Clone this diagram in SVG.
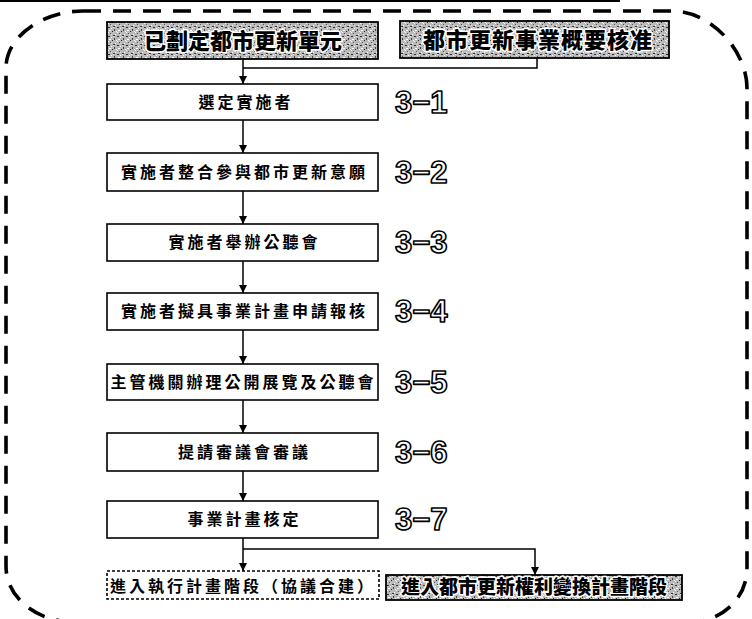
<svg xmlns="http://www.w3.org/2000/svg" width="752" height="619" viewBox="0 0 752 619">
<style>
.box{fill:#fff;stroke:#000;stroke-width:1.6}
.hbox{fill:url(#noise);stroke:#000;stroke-width:1.8}
.dbox{fill:#fff;stroke:#000;stroke-width:1.6;stroke-dasharray:3 2}
.t{font-family:"Noto Sans CJK TC","Noto Sans CJK SC",sans-serif;font-weight:bold;font-size:16px;letter-spacing:3px;text-anchor:middle;fill:#000}
.ht{font-family:"Noto Sans CJK TC","Noto Sans CJK SC",sans-serif;font-weight:900;text-anchor:middle;fill:#000;stroke:#fff;stroke-width:3;paint-order:stroke;stroke-linejoin:round}
.lbl{font-family:"Liberation Sans",Arial,sans-serif;font-weight:bold;font-size:31px;fill:#fff;stroke:#000;stroke-width:1.6;stroke-linejoin:round}
.conn{fill:none;stroke:#000;stroke-width:1.5}
.frame{fill:none;stroke:#000;stroke-width:3.6;stroke-dasharray:18 12}
</style>
<defs>
<pattern id="noise" width="9" height="9" patternUnits="userSpaceOnUse">
<rect width="9" height="9" fill="#b9b9b9"/>
<rect x="0" y="0" width="2" height="1" fill="#333"/>
<rect x="3" y="1" width="1" height="1" fill="#fff"/>
<rect x="6" y="2" width="1" height="2" fill="#444"/>
<rect x="1" y="3" width="2" height="1" fill="#fff"/>
<rect x="4" y="4" width="1" height="1" fill="#222"/>
<rect x="2" y="6" width="1" height="1" fill="#555"/>
<rect x="7" y="7" width="1" height="1" fill="#fff"/>
<rect x="0" y="5" width="1" height="1" fill="#fff"/>
<rect x="5" y="0" width="1" height="1" fill="#eee"/>
<rect x="8" y="4" width="1" height="1" fill="#fff"/>
<rect x="5" y="8" width="2" height="1" fill="#333"/>
<rect x="3" y="7" width="1" height="1" fill="#ddd"/>
</pattern>
<marker id="arr" markerUnits="userSpaceOnUse" markerWidth="9" markerHeight="8" refX="8" refY="4" orient="auto">
<path d="M0,0 L8,4 L0,8 z" fill="#000"/>
</marker>
</defs>
<rect width="752" height="619" fill="#fff"/>
<line x1="0" y1="1" x2="620" y2="1" stroke="#000" stroke-width="2"/>
<path class="frame" d="M83 11 H673 C710 11 747 50 747 88 V568 C747 600 720 622 690 622 H73 C40 622 6 600 6 566 V68 C6 35 45 11 83 11 Z"/>

<g id="connectors">
<path class="conn" d="M243 59 V84" marker-end="url(#arr)"/>
<path class="conn" d="M537 58 V68 H243"/>
<path class="conn" d="M243 120 V153" marker-end="url(#arr)"/>
<path class="conn" d="M243 191 V224" marker-end="url(#arr)"/>
<path class="conn" d="M243 261 V293" marker-end="url(#arr)"/>
<path class="conn" d="M243 330 V364" marker-end="url(#arr)"/>
<path class="conn" d="M243 400 V433" marker-end="url(#arr)"/>
<path class="conn" d="M243 471 V501" marker-end="url(#arr)"/>
<path class="conn" d="M243 538 V571" marker-end="url(#arr)"/>
<path class="conn" d="M243 549 H535 V575" marker-end="url(#arr)"/>
</g>

<g id="start1">
<rect class="hbox" x="107" y="22" width="271" height="37"/>
<text class="ht" x="243" y="48.5" font-size="22">已劃定都市更新單元</text>
</g>
<g id="start2">
<rect class="hbox" x="400" y="21" width="269" height="37"/>
<text class="ht" x="538" y="47.5" font-size="22" letter-spacing="1">都市更新事業概要核准</text>
</g>

<g id="step1">
<rect class="box" x="107" y="84" width="271" height="36"/>
<text class="t" x="246" y="107.8" letter-spacing="5">選定實施者</text>
</g>
<g id="step2">
<rect class="box" x="107" y="153" width="271" height="38"/>
<text class="t" x="244.5" y="177.8">實施者整合參與都市更新意願</text>
</g>
<g id="step3">
<rect class="box" x="107" y="224" width="271" height="37"/>
<text class="t" x="244.5" y="248.3">實施者舉辦公聽會</text>
</g>
<g id="step4">
<rect class="box" x="107" y="293" width="271" height="37"/>
<text class="t" x="244.5" y="317.3">實施者擬具事業計畫申請報核</text>
</g>
<g id="step5">
<rect class="box" x="107" y="364" width="271" height="36"/>
<text class="t" x="243.5" y="387.8" letter-spacing="2.8">主管機關辦理公開展覽及公聽會</text>
</g>
<g id="step6">
<rect class="box" x="107" y="433" width="271" height="38"/>
<text class="t" x="244.5" y="457.8">提請審議會審議</text>
</g>
<g id="step7">
<rect class="box" x="107" y="501" width="271" height="37"/>
<text class="t" x="244.5" y="525.3">事業計畫核定</text>
</g>

<g id="end1">
<rect class="dbox" x="107" y="571" width="272" height="28"/>
<text class="t" x="243" y="591.5" font-size="18" letter-spacing="0">進入執行計畫階段（協議合建）</text>
</g>
<g id="end2">
<rect class="hbox" x="386" y="575" width="296" height="25"/>
<text class="ht" x="534" y="594.3" font-size="19">進入都市更新權利變換計畫階段</text>
</g>

<g id="labels">
<text class="lbl" x="395" y="113">3−1</text>
<text class="lbl" x="395" y="183">3−2</text>
<text class="lbl" x="395" y="253">3−3</text>
<text class="lbl" x="395" y="322">3−4</text>
<text class="lbl" x="395" y="393">3−5</text>
<text class="lbl" x="395" y="463">3−6</text>
<text class="lbl" x="395" y="530">3−7</text>
</g>
</svg>
